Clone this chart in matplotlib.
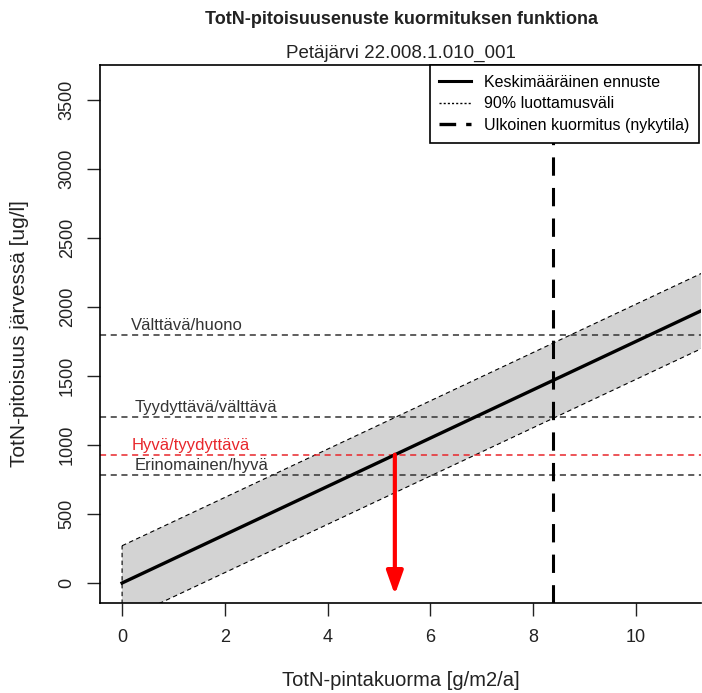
import numpy as np
import matplotlib

matplotlib.use('Agg')

import matplotlib.pyplot as plt
from matplotlib.lines import Line2D

plt.rcParams['font.family'] = ['Liberation Sans', 'DejaVu Sans']

# load (g/m2/a) and predicted TotN (ug/l)
load = [0, 1, 2, 3, 4, 5, 6, 7, 8, 9, 10, 11, 12]
mean_pred = [0, 175, 350, 525, 700, 875, 1050, 1225, 1400, 1575, 1750, 1925, 2100]
lower_pred = [-275, -100, 75, 250, 425, 600, 775, 950, 1125, 1300, 1475, 1650, 1825]
upper_pred = [270, 445, 620, 795, 970, 1145, 1320, 1495, 1670, 1845, 2020, 2195, 2370]

# class limits
limit_names = ['Välttävä/huono', 'Tyydyttävä/välttävä', 'Hyvä/tyydyttävä', 'Erinomainen/hyvä']
limit_values = [1800, 1200, 930, 780]
limit_colors = ['#333333', '#333333', '#e8262b', '#333333']
limit_label_x = [0.18, 0.25, 0.18, 0.25]

current_load = 8.38
target_load = 5.31
target_value = 930

fig = plt.figure(figsize=(7.02, 6.93), dpi=100)
ax = fig.add_axes([100 / 702, 90 / 693, 601 / 702, 538 / 693])

# confidence band
poly_x = load + load[::-1]
poly_y = upper_pred + lower_pred[::-1]
ax.fill(poly_x, poly_y, facecolor='#d3d3d3', edgecolor='black',
        linestyle=(0, (4, 3)), linewidth=0.8, zorder=1)

# class limit lines + labels
for name, val, col, lx in zip(limit_names, limit_values, limit_colors, limit_label_x):
    ax.axhline(val, color=col, linestyle=(0, (4, 3)), linewidth=1.1, zorder=2)
    ax.text(lx, val + 15, name, color=col, fontsize=12, ha='left', va='bottom', zorder=3)

# mean prediction
ax.plot(load, mean_pred, color='black', linewidth=2.4, zorder=4)

# current external load
ax.axvline(current_load, color='black', linestyle=(0, (6, 4)), linewidth=2.2, zorder=4)

# arrow down from target value
ax.annotate('', xy=(target_load, -85), xytext=(target_load, target_value),
            arrowprops=dict(arrowstyle='-|>,head_length=1.4,head_width=0.5',
                            color='#ff0000', lw=3, shrinkA=0, shrinkB=0), zorder=5)

ax.set_xlim(-0.43, 11.27)
ax.set_ylim(-145, 3754)
ax.set_xticks([0, 2, 4, 6, 8, 10])
ax.set_yticks([0, 500, 1000, 1500, 2000, 2500, 3000, 3500])
ax.tick_params(axis='both', direction='out', length=9.5, width=1, labelsize=13, colors='#222222')
ax.tick_params(axis='y', labelrotation=90, pad=8)
ax.tick_params(axis='x', pad=9)
for lab in ax.get_yticklabels():
    lab.set_va('center')
for s in ax.spines.values():
    s.set_linewidth(1.2)
ax.spines['right'].set_visible(False)

ax.set_xlabel('TotN-pintakuorma [g/m2/a]', fontsize=14.5, color='#222222', va='center')
ax.xaxis.set_label_coords(0.5, -77 / 538)
ax.set_ylabel('TotN-pitoisuus järvessä [ug/l]', fontsize=15, color='#222222', va='center')
ax.yaxis.set_label_coords(-80 / 601, 0.5)

fig.text(401 / 702, 1 - 20 / 693, 'TotN-pitoisuusenuste kuormituksen funktiona', fontsize=13,
         fontweight='bold', ha='center', va='center', color='#222222')
fig.text(401 / 702, 1 - 53 / 693, 'Petäjärvi 22.008.1.010_001', fontsize=13.5,
         ha='center', va='center', color='#222222')

handles = [Line2D([], [], color='black', linewidth=2.2),
           Line2D([], [], color='black', linewidth=1, linestyle=(0, (1.5, 1.5))),
           Line2D([], [], color='black', linewidth=2.4, linestyle=(0, (5, 3)))]
labels = ['Keskimääräinen ennuste', '90% luottamusväli', 'Ulkoinen kuormitus (nykytila)']
leg = ax.legend(handles, labels, loc='upper right', bbox_to_anchor=(599 / 601, 1.0),
                fontsize=11.5, frameon=True, fancybox=False, framealpha=1,
                borderaxespad=0, handlelength=2.0, handletextpad=0.8,
                labelspacing=0.42, borderpad=0.6)
leg.get_frame().set_edgecolor('black')
leg.get_frame().set_linewidth(1.2)
leg.set_zorder(10)

plt.savefig('out.png', dpi=100)
